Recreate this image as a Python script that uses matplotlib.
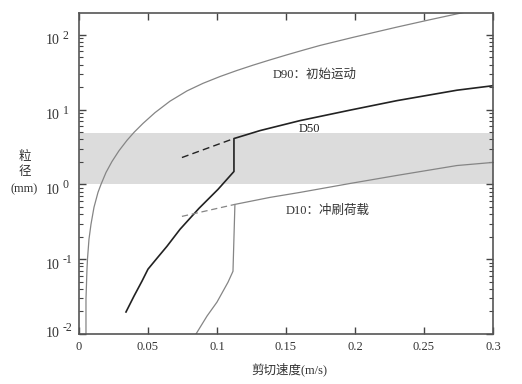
import matplotlib
matplotlib.use("Agg")
import matplotlib.pyplot as plt
import matplotlib.transforms as mtransforms
from matplotlib.ticker import LogLocator, NullFormatter, FixedLocator

plt.rcParams['font.family'] = ['Liberation Serif', 'Noto Sans CJK SC', 'DejaVu Sans']

# D90 (initial motion)
d90_v = [0.00507, 0.00507, 0.0058, 0.0062, 0.00725, 0.0087, 0.01087, 0.01377, 0.01594,
         0.01957, 0.02391, 0.02899, 0.03478, 0.03986, 0.04638, 0.05507, 0.06594, 0.07826,
         0.08986, 0.10217, 0.11449, 0.12609, 0.13841, 0.15072, 0.16304, 0.17464, 0.19855,
         0.23043, 0.25435, 0.27609, 0.3]
d90_d = [0.0100, 0.0293, 0.0736, 0.103, 0.185, 0.293, 0.494, 0.782, 1.0,
         1.445, 2.026, 2.823, 3.886, 4.966, 6.546, 9.12, 12.98, 17.81,
         22.49, 27.72, 33.42, 39.33, 46.27, 54.12, 62.9, 72.2, 92.6,
         127.1, 159.5, 194.7, 239.9]

# D50
d50_v = [0.03406, 0.03986, 0.04565, 0.05, 0.05652, 0.06377, 0.07319, 0.08696, 0.1007,
         0.1123, 0.1123, 0.1217, 0.1312, 0.1601, 0.1964, 0.2304, 0.2739, 0.3]
d50_d = [0.0197, 0.0321, 0.0509, 0.0736, 0.103, 0.149, 0.251, 0.479, 0.858,
         1.49, 4.11, 4.64, 5.25, 7.13, 9.85, 13.2, 18.2, 20.9]
d50_dash_v = [0.0746, 0.1123]
d50_dash_d = [2.29, 4.11]

# D10 (wash load)
d10_v = [0.0848, 0.0928, 0.1, 0.108, 0.1116, 0.113, 0.1384, 0.1601, 0.1964, 0.2304,
         0.2739, 0.3]
d10_d = [0.0100, 0.0174, 0.0267, 0.0493, 0.069, 0.541, 0.671, 0.782, 1.03, 1.32,
         1.79, 1.97]
d10_dash_v = [0.0746, 0.113]
d10_dash_d = [0.374, 0.541]

band = (1.0, 4.8)

xticks = [0, 0.05, 0.1, 0.15, 0.2, 0.25, 0.3]
xticklabels = ['0', '0.05', '0.1', '0.15', '0.2', '0.25', '0.3']
yticks = [0.01, 0.1, 1, 10, 100]
yexponents = ['-2', '-1', '0', '1', '2']

fig = plt.figure(figsize=(5.22, 3.84), dpi=100)
ax = fig.add_axes([0.1513, 0.1302, 0.7931, 0.8359])

ax.axhspan(band[0], band[1], color='#dcdcdc', lw=0, zorder=0)

ax.plot(d90_v, d90_d, color='#858585', lw=0.9)
ax.plot(d50_v, d50_d, color='#222222', lw=1.2)
ax.plot(d50_dash_v, d50_dash_d, color='#222222', lw=1.0, ls=(0, (5, 3)))
ax.plot(d10_v, d10_d, color='#858585', lw=0.9)
ax.plot(d10_dash_v, d10_dash_d, color='#858585', lw=0.9, ls=(0, (5, 3)))

ax.set_yscale('log')
ax.set_xlim(0, 0.3)
ax.set_ylim(0.01, 196)

ax.xaxis.set_major_locator(FixedLocator(xticks))
ax.set_xticklabels(xticklabels, fontsize=9, color='#333333')
ax.yaxis.set_major_locator(FixedLocator(yticks))
ax.yaxis.set_major_formatter(NullFormatter())
ax.yaxis.set_minor_locator(LogLocator(base=10, subs=range(2, 10), numticks=20))
ax.yaxis.set_minor_formatter(NullFormatter())

ax.tick_params(axis='both', which='major', direction='in', length=5, width=1.0,
               color='#444444', top=True, right=True)
ax.tick_params(axis='y', which='minor', direction='in', length=3, width=0.8,
               color='#444444', right=True)
ax.tick_params(axis='x', which='major', pad=5)
for s in ax.spines.values():
    s.set_color('#555555')
    s.set_linewidth(1.2)

# y tick labels drawn as "10" with a large raised exponent
blend = mtransforms.blended_transform_factory(ax.transAxes, ax.transData)
for i, (yv, ex) in enumerate(zip(yticks, yexponents)):
    shift = 7 if i == 0 else 0
    t10 = blend + mtransforms.ScaledTranslation(-19 / 100, (-6 + shift) / 100, fig.dpi_scale_trans)
    tex = blend + mtransforms.ScaledTranslation(-16 / 100, (-1 + shift) / 100, fig.dpi_scale_trans)
    ax.text(0, yv, '10', transform=t10, fontsize=10, ha='right', va='center', color='#333333')
    ax.text(0, yv, ex, transform=tex, fontsize=8.5, ha='left', va='center', color='#333333')

ax.text(0.1405, 29, 'D90：初始运动', fontsize=9, color='#333333', va='center', ha='left')
ax.text(0.1594, 5.55, 'D50', fontsize=9, color='#222222', va='center', ha='left')
ax.text(0.1500, 0.44, 'D10：冲刷荷载', fontsize=9, color='#333333', va='center', ha='left')

fig.text(25/522, 1 - 157/384, '粒', fontsize=9, ha='center', va='center', color='#333333')
fig.text(25/522, 1 - 172/384, '径', fontsize=9, ha='center', va='center', color='#333333')
fig.text(24/522, 1 - 189/384, '(mm)', fontsize=9, ha='center', va='center', color='#333333')
fig.text(289/522, 1 - 369/384, '剪切速度(m/s)', fontsize=9, ha='center', va='center', color='#333333')

fig.savefig('out.png', dpi=100)
